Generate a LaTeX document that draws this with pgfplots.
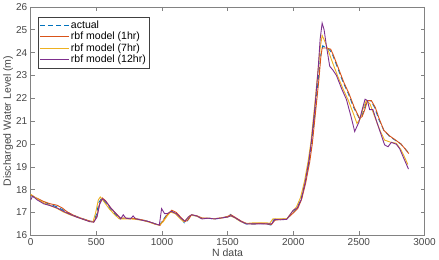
\documentclass[border=0pt]{standalone}
\usepackage{pgfplots}
\pgfplotsset{compat=1.18}
\usepackage{fontspec}
\setmainfont{Liberation Sans}
\definecolor{mblue}{RGB}{0,114,189}
\definecolor{mred}{RGB}{217,83,25}
\definecolor{myel}{RGB}{237,177,32}
\definecolor{mpur}{RGB}{126,47,142}
\definecolor{axgray}{RGB}{130,130,130}
\definecolor{txgray}{RGB}{70,70,70}
\begin{document}
\begin{tikzpicture}
\begin{axis}[
  scale only axis, width=393pt, height=228pt,
  xmin=0, xmax=3000, ymin=16, ymax=26,
  xtick={0,500,...,3000}, ytick={16,17,...,26},
  tick align=inside, tick pos=both,
  major tick length=4pt,
  axis line style={axgray, line width=0.6pt},
  tick style={axgray, line width=0.6pt},
  every tick label/.style={font=\fontsize{10}{12}\selectfont, text=txgray},
  /pgf/number format/assume math mode=true,
  /pgf/number format/1000 sep={},
  xlabel={N data}, ylabel={Discharged Water Level (m)},
  label style={font=\fontsize{10.5}{12}\selectfont, text=txgray},
  xlabel style={yshift=4pt},
  ylabel style={yshift=-4pt},
  legend style={at={(0.018,0.957)}, anchor=north west, font=\fontsize{10.5}{12}\selectfont,
    draw=black!75, line width=0.5pt, inner sep=1.5pt, row sep=-1.5pt},
  legend cell align=left,
  legend image code/.code={\draw[#1] (0cm,0cm) -- (1.0cm,0cm);},
  every axis plot/.append style={line width=0.9pt},
]
\addplot[mblue, dash pattern=on 5pt off 3pt] coordinates {
(0,17.75)(50,17.6)(100,17.45)(150,17.35)(200,17.25)(250,17.1)(300,16.95)(350,16.82)(400,16.72)(450,16.62)(480,16.6)(500,16.9)(520,17.45)(540,17.62)(560,17.5)(600,17.2)(640,16.95)(680,16.75)(720,16.75)(760,16.75)(800,16.72)(850,16.68)(900,16.6)(950,16.5)(980,16.45)(1000,16.6)(1030,16.85)(1070,17.05)(1100,17.0)(1140,16.8)(1170,16.55)(1190,16.6)(1220,16.9)(1260,16.85)(1300,16.75)(1350,16.75)(1400,16.72)(1450,16.75)(1500,16.82)(1520,16.92)(1550,16.78)(1600,16.62)(1640,16.5)(1700,16.5)(1750,16.52)(1800,16.5)(1830,16.45)(1850,16.68)(1900,16.7)(1950,16.72)(2000,17.0)(2030,17.2)(2060,17.6)(2090,18.3)(2120,19.2)(2140,20.0)(2165,21.4)(2190,22.8)(2210,23.9)(2225,24.3)(2250,24.2)(2280,24.1)(2300,23.9)(2340,23.3)(2380,22.7)(2420,22.2)(2460,21.6)(2500,21.15)(2520,21.2)(2540,21.5)(2560,21.9)(2590,21.9)(2620,21.6)(2650,21.1)(2690,20.6)(2730,20.35)(2780,20.15)(2820,20.0)(2850,19.8)(2880,19.6)
};
\addlegendentry{actual}
\addplot[mred] coordinates {
(0,17.75)(50,17.62)(100,17.48)(150,17.38)(200,17.32)(240,17.2)(280,17.02)(320,16.9)(360,16.8)(400,16.72)(450,16.63)(480,16.58)(505,16.85)(525,17.4)(545,17.64)(570,17.52)(610,17.2)(650,16.95)(685,16.75)(720,16.76)(760,16.74)(800,16.73)(850,16.68)(900,16.6)(950,16.5)(985,16.44)(1010,16.65)(1040,16.9)(1075,17.1)(1110,17.0)(1145,16.78)(1175,16.6)(1200,16.68)(1225,16.9)(1265,16.86)(1305,16.76)(1350,16.75)(1400,16.73)(1450,16.76)(1500,16.83)(1525,16.9)(1555,16.8)(1605,16.62)(1645,16.52)(1700,16.5)(1750,16.53)(1800,16.5)(1835,16.48)(1860,16.66)(1900,16.7)(1950,16.72)(2000,16.98)(2035,17.18)(2065,17.6)(2095,18.3)(2125,19.2)(2145,20.0)(2170,21.4)(2195,22.8)(2210,23.8)(2220,24.2)(2250,24.2)(2285,24.15)(2305,23.9)(2345,23.3)(2385,22.7)(2425,22.2)(2465,21.6)(2505,21.12)(2525,21.2)(2545,21.5)(2565,21.9)(2595,21.9)(2625,21.6)(2655,21.1)(2690,20.6)(2735,20.35)(2785,20.15)(2820,20.0)(2850,19.8)(2880,19.58)
};
\addlegendentry{rbf model (1hr)}
\addplot[myel] coordinates {
(0,17.8)(50,17.6)(100,17.42)(150,17.3)(200,17.18)(250,17.02)(300,16.9)(350,16.8)(400,16.7)(450,16.6)(475,16.6)(495,17.0)(515,17.55)(530,17.68)(555,17.5)(600,17.15)(640,16.9)(675,16.72)(720,16.72)(760,16.72)(800,16.7)(850,16.66)(900,16.58)(950,16.48)(980,16.45)(1010,16.6)(1040,16.85)(1065,17.02)(1100,16.95)(1140,16.72)(1165,16.6)(1190,16.72)(1215,16.88)(1260,16.85)(1300,16.74)(1350,16.75)(1400,16.73)(1450,16.76)(1500,16.8)(1520,16.85)(1550,16.78)(1600,16.6)(1640,16.52)(1700,16.55)(1750,16.55)(1800,16.55)(1820,16.52)(1845,16.72)(1900,16.72)(1950,16.72)(1995,17.05)(2025,17.25)(2055,17.65)(2085,18.35)(2115,19.3)(2135,20.1)(2160,21.5)(2185,23.0)(2205,24.2)(2220,24.75)(2240,24.5)(2266,24.1)(2300,23.55)(2340,22.95)(2380,22.4)(2420,21.9)(2460,21.3)(2485,20.9)(2510,21.1)(2535,21.6)(2557,21.9)(2585,21.75)(2620,21.2)(2660,20.6)(2696,20.17)(2740,20.08)(2785,20.03)(2820,19.75)(2850,19.4)(2873,19.1)
};
\addlegendentry{rbf model (7hr)}
\addplot[mpur] coordinates {
(0,17.55)(15,17.72)(50,17.55)(100,17.38)(150,17.3)(200,17.2)(250,17.05)(300,16.92)(350,16.8)(400,16.7)(450,16.6)(480,16.58)(505,16.8)(525,17.35)(545,17.6)(570,17.5)(610,17.2)(650,16.95)(685,16.72)(705,16.9)(725,16.75)(760,16.72)(780,16.85)(800,16.72)(850,16.66)(900,16.6)(950,16.5)(980,16.45)(997,17.17)(1020,16.95)(1040,16.95)(1070,17.05)(1110,16.95)(1145,16.75)(1175,16.62)(1200,16.8)(1225,16.9)(1265,16.85)(1305,16.72)(1350,16.75)(1400,16.72)(1450,16.76)(1500,16.8)(1525,16.86)(1555,16.78)(1605,16.6)(1645,16.5)(1700,16.5)(1750,16.5)(1800,16.5)(1835,16.5)(1860,16.7)(1900,16.68)(1950,16.7)(2000,17.1)(2030,17.2)(2060,17.55)(2090,18.3)(2120,19.3)(2140,20.2)(2165,21.6)(2190,23.3)(2205,24.6)(2220,25.29)(2235,25.0)(2255,24.2)(2278,23.4)(2300,23.25)(2329,23.0)(2370,22.4)(2405,21.95)(2440,21.2)(2468,20.55)(2500,20.95)(2525,21.5)(2547,21.96)(2565,21.9)(2582,21.5)(2607,21.5)(2640,20.9)(2670,20.4)(2696,19.96)(2722,19.88)(2747,20.07)(2785,19.99)(2810,19.8)(2840,19.4)(2878,18.9)
};
\addlegendentry{rbf model (12hr)}
\end{axis}
\end{tikzpicture}
\end{document}
